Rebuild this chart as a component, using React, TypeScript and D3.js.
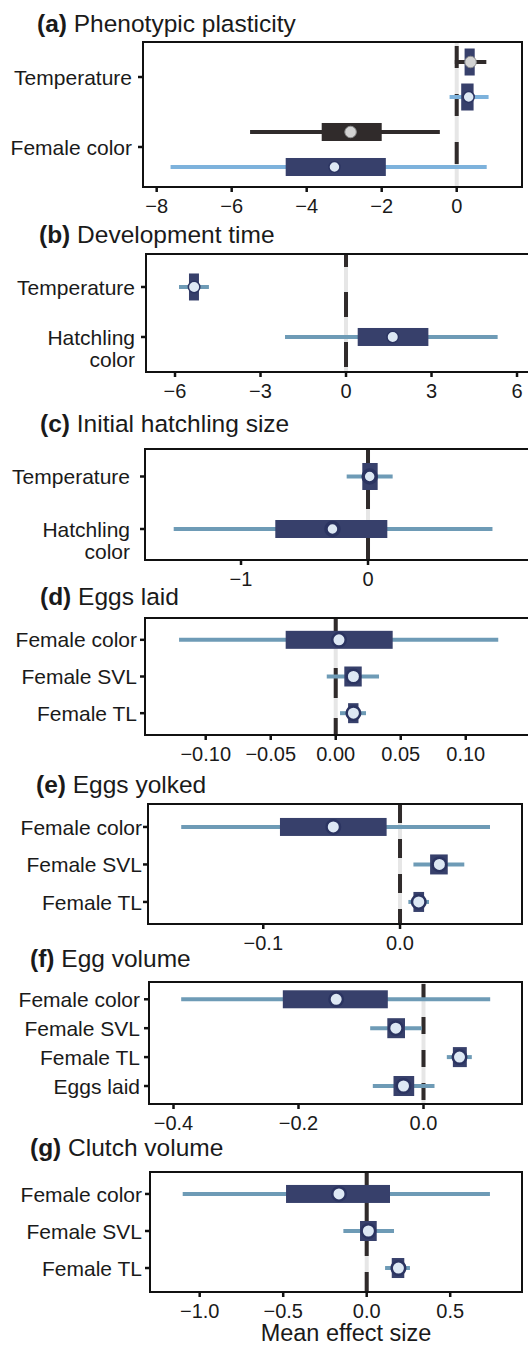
import React from "react";
import * as d3 from "d3";

// ---------- data ----------
// each interval row: [outer low, inner low, mean, inner high, outer high]
const catsA = ["Temperature", "Female color"];
const plasticityDark = [
  [-0.05, 0.21, 0.37, 0.48, 0.79],
  [-5.51, -3.6, -2.83, -2.0, -0.45],
];
const plasticityBlue = [
  [-0.19, 0.12, 0.32, 0.45, 0.85],
  [-7.63, -4.56, -3.26, -1.89, 0.8],
];
const ticksA = [-8, -6, -4, -2, 0];

const catsB = ["Temperature", "Hatchling\ncolor"];
const devTime = [
  [-5.86, -5.51, -5.33, -5.16, -4.81],
  [-2.14, 0.41, 1.64, 2.89, 5.32],
];
const ticksB = [-6, -3, 0, 3, 6];

const catsC = ["Temperature", "Hatchling\ncolor"];
const hatchSize = [
  [-0.168, -0.045, 0.013, 0.076, 0.194],
  [-1.53, -0.73, -0.28, 0.152, 0.98],
];
const ticksC = [-1, 0];

const catsD = ["Female color", "Female SVL", "Female TL"];
const eggsLaid = [
  [-0.1205, -0.0385, 0.0025, 0.0438, 0.125],
  [-0.0069, 0.0066, 0.0136, 0.02, 0.0333],
  [0.0033, 0.0095, 0.0136, 0.0175, 0.0233],
];
const ticksD = [-0.1, -0.05, 0, 0.05, 0.1];

const catsE = ["Female color", "Female SVL", "Female TL"];
const eggsYolked = [
  [-0.16, -0.0878, -0.0488, -0.0098, 0.0658],
  [0.0098, 0.022, 0.0288, 0.0349, 0.047],
  [0.0061, 0.0098, 0.0137, 0.0176, 0.0212],
];
const ticksE = [-0.1, 0];

const catsF = ["Female color", "Female SVL", "Female TL", "Eggs laid"];
const eggVolume = [
  [-0.3877, -0.2251, -0.1397, -0.0571, 0.1067],
  [-0.0853, -0.0579, -0.0443, -0.0296, -0.0027],
  [0.0373, 0.047, 0.0576, 0.0693, 0.0773],
  [-0.0811, -0.048, -0.032, -0.0149, 0.0176],
];
const ticksF = [-0.4, -0.2, 0];

const catsG = ["Female color", "Female SVL", "Female TL"];
const clutchVolume = [
  [-1.1018, -0.483, -0.166, 0.1395, 0.738],
  [-0.1397, -0.04, 0.01, 0.06, 0.1635],
  [0.11, 0.15, 0.19, 0.225, 0.259],
];
const ticksG = [-1, -0.5, 0, 0.5];

// ---------- styles ----------
const FONT = "'Liberation Sans', Arial, Helvetica, sans-serif";
const NAVY = "#37406b";
const DARK = "#302b2b";
const STEEL = "#6e9bb6";
const SKY = "#7db2dc";
const LIGHT = "#dde8f4";
const RING = "#2b3461";
const INK = "#1a1a1a";

const blueSeries = (data, ringW, r, whisker = STEEL, offset = 0) => ({
  data, offset, whisker, box: NAVY, fill: LIGHT, stroke: RING, sw: ringW, r,
});

const panels = [
  {
    label: "(a)", title: "Phenotypic plasticity", tx: 37, ty: 32,
    L: 143, R: 522, T: 42, B: 187, domain: [-8.365, 1.741],
    cats: catsA, pad: 0.536, align: 0.5, tickShift: -2.5, labelGap: 11,
    ticks: ticksA, fmt: "d", dash: "22,26", dashOff: 44, tallH: 27,
    series: [
      { data: plasticityDark, offset: -17.5, whisker: DARK, box: DARK, fill: "#d3d3d3", stroke: "#8f8f8f", sw: 1, r: 5.75 },
      blueSeries(plasticityBlue, 1.5, 5.5, SKY, 17.5),
    ],
  },
  {
    label: "(b)", title: "Development time", tx: 39, ty: 243,
    L: 146, R: 534, T: 254, B: 372, domain: [-7.018, 6.596],
    cats: catsB, pad: 0.68, align: 0.485, tickShift: 0, labelGap: 11,
    ticks: ticksB, fmt: "d", dash: "25,25", dashOff: 12, tallH: 27,
    series: [blueSeries(devTime, 1.5, 5.75)],
  },
  {
    label: "(c)", title: "Initial hatchling size", tx: 40, ty: 432,
    L: 145, R: 534, T: 449, B: 560, domain: [-1.756, 1.307],
    cats: catsC, pad: 0.557, align: 0.47, tickShift: 0, labelGap: 15,
    ticks: ticksC, fmt: "d", dash: "60,16", dashOff: 0, tallH: 27,
    series: [blueSeries(hatchSize, 3.5, 6.5)],
  },
  {
    label: "(d)", title: "Eggs laid", tx: 40, ty: 605,
    L: 145, R: 534, T: 618, B: 735, domain: [-0.1467, 0.1525],
    cats: catsD, pad: 0.595, align: 0.5, tickShift: 0, labelGap: 8,
    ticks: ticksD, fmt: ".2f", dash: "30,20", dashOff: 0, tallH: 20,
    series: [blueSeries(eggsLaid, 2.5, 6.75)],
  },
  {
    label: "(e)", title: "Eggs yolked", tx: 36, ty: 793,
    L: 148, R: 522, T: 804, B: 924, domain: [-0.1843, 0.0892],
    cats: catsE, pad: 0.6, align: 0.51, tickShift: 0, labelGap: 6,
    ticks: ticksE, fmt: ".1f", dash: "19,16", dashOff: 0, tallH: 20,
    series: [blueSeries(eggsYolked, 2.5, 6.75)],
  },
  {
    label: "(f)", title: "Egg volume", tx: 30, ty: 967,
    L: 149, R: 522, T: 982, B: 1104, domain: [-0.4392, 0.1576],
    cats: catsF, pad: 0.61, align: 0.49, tickShift: 0, labelGap: 9,
    ticks: ticksF, fmt: ".1f", dash: "17,16", dashOff: 31, tallH: 20,
    series: [blueSeries(eggVolume, 2.5, 6.75)],
  },
  {
    label: "(g)", title: "Clutch volume", tx: 30, ty: 1156,
    L: 150, R: 522, T: 1172, B: 1292, domain: [-1.2976, 0.9299],
    cats: catsG, pad: 0.62, align: 0.478, tickShift: 0, labelGap: 8,
    ticks: ticksG, fmt: ".1f", dash: "19,16", dashOff: 5, tallH: 20,
    series: [blueSeries(clutchVolume, 2.5, 6.75)],
  },
];

function Panel({ p }) {
  const x = d3.scaleLinear().domain(p.domain).range([p.L, p.R]);
  const y = d3.scalePoint().domain(p.cats).range([p.T, p.B]).padding(p.pad).align(p.align);
  const fmt = d3.format(p.fmt);
  const x0 = x(0);
  return (
    <g>
      <text x={p.tx} y={p.ty} fontSize={24.5} fill={INK}>
        <tspan fontWeight={700}>{p.label}</tspan>
        <tspan>{" " + p.title}</tspan>
      </text>
      {/* zero reference */}
      <line x1={x0} x2={x0} y1={p.T} y2={p.B} stroke="#e6e6e6" strokeWidth={4} />
      <line x1={x0} x2={x0} y1={p.T} y2={p.B} stroke={DARK} strokeWidth={4}
        strokeDasharray={p.dash} strokeDashoffset={p.dashOff} />
      {p.series.map((s, si) => (
        <g key={si}>
          {s.data.map((d, i) => {
            const cy = y(p.cats[i]) + s.offset;
            return (
              <line key={"w" + i} x1={x(d[0])} x2={x(d[4])} y1={cy} y2={cy}
                stroke={s.whisker} strokeWidth={4} />
            );
          })}
          {s.data.map((d, i) => {
            const cy = y(p.cats[i]) + s.offset;
            const w = x(d[3]) - x(d[1]);
            const narrow = w < 30;
            const h = narrow ? p.tallH : 18;
            return (
              <rect key={"b" + i} x={x(d[1])} width={w} y={cy - h / 2} height={h}
                fill={narrow ? NAVY : s.box} />
            );
          })}
          {s.data.map((d, i) => {
            const cy = y(p.cats[i]) + s.offset;
            return (
              <circle key={"p" + i} cx={x(d[2])} cy={cy} r={s.r}
                fill={s.fill} stroke={s.stroke} strokeWidth={s.sw} />
            );
          })}
        </g>
      ))}
      {/* frame */}
      <rect x={p.L} y={p.T} width={p.R - p.L} height={p.B - p.T}
        fill="none" stroke="#111" strokeWidth={2} />
      {/* y axis */}
      {p.cats.map((c) => {
        const ty = y(c) + p.tickShift;
        const lines = c.split("\n");
        return (
          <g key={c}>
            <line x1={p.L - 5} x2={p.L} y1={ty} y2={ty} stroke="#111" strokeWidth={2.5} />
            <text x={p.L - p.labelGap} y={ty} textAnchor="end" fontSize={21} fill={INK}>
              {lines.map((ln, k) => (
                <tspan key={k} x={p.L - p.labelGap} dy={k === 0 ? "0.36em" : 22}>{ln}</tspan>
              ))}
            </text>
          </g>
        );
      })}
      {/* x axis */}
      {p.ticks.map((t) => (
        <g key={t}>
          <line x1={x(t)} x2={x(t)} y1={p.B} y2={p.B + 5} stroke="#111" strokeWidth={2.5} />
          <text x={x(t)} y={p.B + 26} textAnchor="middle" fontSize={20} fill={INK}>{fmt(t)}</text>
        </g>
      ))}
    </g>
  );
}

export default function App() {
  return (
    <svg width={528} height={1345} viewBox="0 0 528 1345"
      style={{ position: "absolute", left: 0, top: 0, background: "#fff" }}
      fontFamily={FONT}>
      <rect x={0} y={0} width={528} height={1345} fill="#fff" />
      {panels.map((p) => <Panel key={p.label} p={p} />)}
      <text x={346} y={1341} textAnchor="middle" fontSize={23.5} fill={INK}>Mean effect size</text>
    </svg>
  );
}
